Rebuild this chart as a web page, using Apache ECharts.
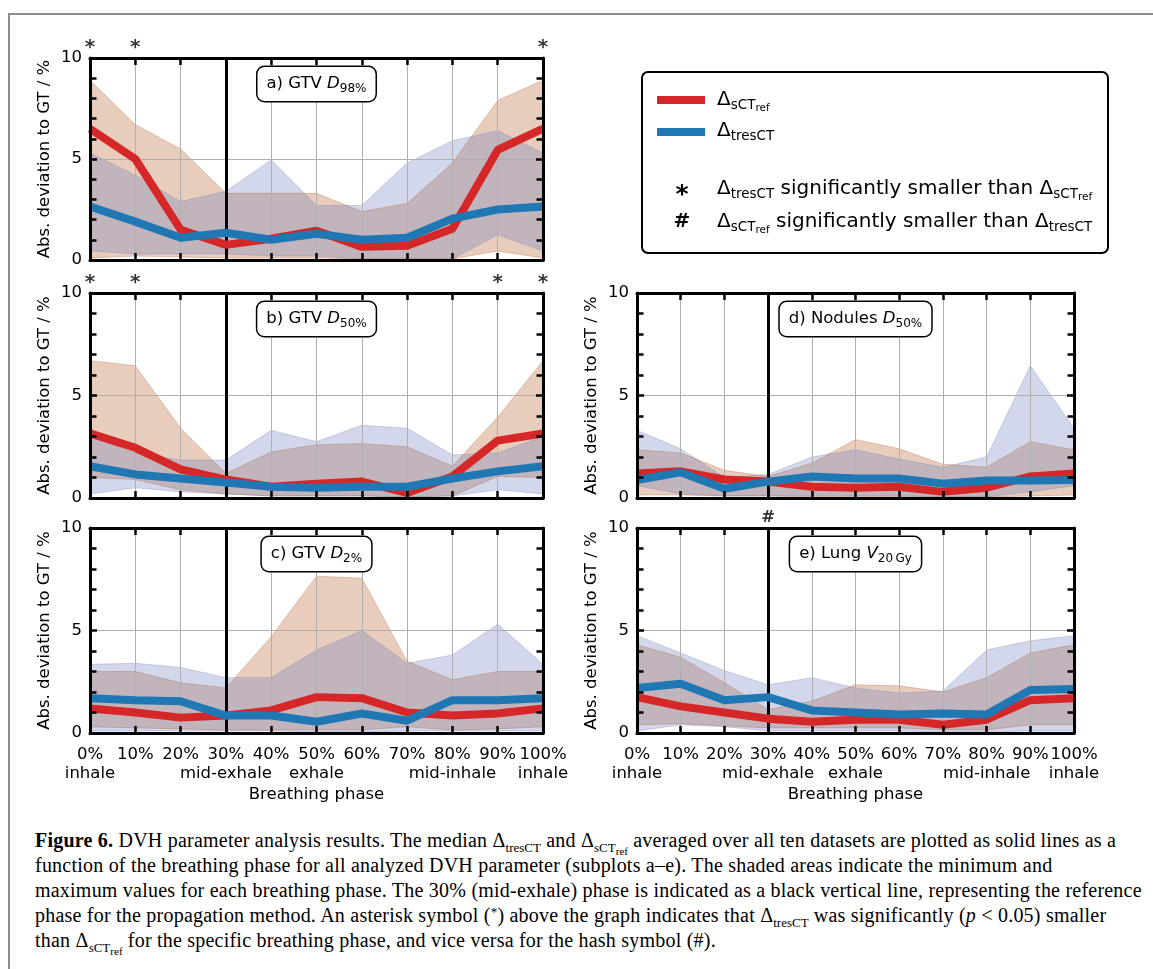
<!DOCTYPE html>
<html>
<head>
<meta charset="utf-8">
<script src="https://cdn.jsdelivr.net/npm/echarts/dist/echarts.min.js"></script>
<style>
  html, body { margin: 0; padding: 0; background: #fff; width: 1153px; height: 969px; overflow: hidden; }
  #frame { position: absolute; left: 8px; top: 13px; right: 0; bottom: 0; border-top: 2px solid #8c8c8c; border-left: 2px solid #8c8c8c; }
  #chart { position: absolute; left: 0; top: 0; width: 1153px; height: 820px; }
  #cap { position: absolute; left: 35px; top: 828px; font-family: 'Liberation Serif', serif; font-size: 20px; letter-spacing: 0.22px; line-height: 25px; white-space: nowrap; color: #000; }
  #cap sub { font-size: 0.65em; vertical-align: -0.35em; line-height: 0; letter-spacing: 0; }
  #cap sub sub { font-size: 0.85em; vertical-align: -0.3em; }
  #cap sup { font-size: 0.65em; vertical-align: 0.5em; line-height: 0; }
</style>
</head>
<body>
<div id="frame"></div>
<div id="chart"></div>
<div id="cap"><b>Figure 6.</b> DVH parameter analysis results. The median Δ<sub>tresCT</sub> and Δ<sub>sCT<sub>ref</sub></sub> averaged over all ten datasets are plotted as solid lines as a<br>function of the breathing phase for all analyzed DVH parameter (subplots a–e). The shaded areas indicate the minimum and<br>maximum values for each breathing phase. The 30% (mid-exhale) phase is indicated as a black vertical line, representing the reference<br>phase for the propagation method. An asterisk symbol (<sup>*</sup>) above the graph indicates that Δ<sub>tresCT</sub> was significantly (<i>p</i> &lt; 0.05) smaller<br>than Δ<sub>sCT<sub>ref</sub></sub> for the specific breathing phase, and vice versa for the hash symbol (#).</div>
<script>
// ---------------- data ----------------
const phases = ['0%', '10%', '20%', '30%', '40%', '50%', '60%', '70%', '80%', '90%', '100%'];
const phaseNames = ['inhale', '', '', 'mid-exhale', '', 'exhale', '', '', 'mid-inhale', '', 'inhale'];
const refPhase = '30%';
const yMin = 0, yMax = 10, yStep = 5;

// a) GTV D98%
const sctA     = [6.5, 5.0, 1.5, 0.75, 1.05, 1.45, 0.65, 0.7, 1.55, 5.45, 6.5];
const tresA    = [2.65, 1.9, 1.1, 1.35, 1.0, 1.3, 1.0, 1.1, 2.05, 2.5, 2.65];
const sctMinA  = [0.1, 0.2, 0.15, 0.1, 0.1, 0.1, 0.05, 0.05, 0.05, 0.45, 0.1];
const sctMaxA  = [8.9, 6.7, 5.5, 3.3, 3.3, 3.3, 2.4, 2.8, 4.8, 7.9, 8.9];
const tresMinA = [0.45, 0.3, 0.3, 0.3, 0.2, 0.2, 0.05, 0.05, 0.05, 1.25, 0.45];
const tresMaxA = [5.3, 4.2, 2.9, 3.4, 4.95, 2.7, 2.7, 4.8, 5.9, 6.4, 5.3];
const sigA = ['0%', '10%', '100%'];

// b) GTV D50%
const sctB     = [3.15, 2.45, 1.4, 0.9, 0.55, 0.7, 0.8, 0.25, 1.05, 2.8, 3.15];
const tresB    = [1.55, 1.15, 0.95, 0.75, 0.55, 0.5, 0.55, 0.55, 0.95, 1.3, 1.55];
const sctMinB  = [1.0, 0.9, 0.4, 0.2, 0.1, 0.1, 0.1, 0.05, 0.1, 1.05, 1.0];
const sctMaxB  = [6.7, 6.45, 3.4, 1.2, 2.25, 2.6, 2.65, 2.5, 1.55, 3.95, 6.7];
const tresMinB = [0.2, 0.5, 0.3, 0.2, 0.1, 0.1, 0.1, 0.05, 0.1, 0.4, 0.2];
const tresMaxB = [3.0, 2.2, 1.85, 1.85, 3.3, 2.75, 3.55, 3.4, 2.1, 2.2, 3.0];
const sigB = ['0%', '10%', '90%', '100%'];

// c) GTV D2%
const sctC     = [1.2, 1.0, 0.75, 0.85, 1.1, 1.75, 1.7, 1.0, 0.85, 0.95, 1.2];
const tresC    = [1.7, 1.6, 1.55, 0.85, 0.85, 0.55, 0.95, 0.6, 1.6, 1.6, 1.7];
const sctMinC  = [0.3, 0.25, 0.2, 0.15, 0.15, 0.15, 0.15, 0.3, 0.15, 0.2, 0.3];
const sctMaxC  = [3.0, 3.0, 2.45, 2.2, 4.7, 7.65, 7.55, 3.5, 2.6, 3.0, 3.0];
const tresMinC = [0.1, 0.1, 0.1, 0.1, 0.1, 0.05, 0.05, 0.1, 0.1, 0.1, 0.1];
const tresMaxC = [3.35, 3.4, 3.2, 2.7, 2.7, 4.05, 5.0, 3.4, 3.8, 5.3, 3.35];
const sigC = [];

// d) Nodules D50%
const sctD     = [1.2, 1.3, 0.9, 0.8, 0.55, 0.5, 0.55, 0.3, 0.5, 1.05, 1.2];
const tresD    = [0.88, 1.25, 0.45, 0.8, 1.05, 0.95, 0.95, 0.7, 0.85, 0.85, 0.88];
const sctMinD  = [0.15, 0.15, 0.1, 0.1, 0.05, 0.05, 0.05, 0.05, 0.05, 0.1, 0.15];
const sctMaxD  = [2.35, 2.2, 1.35, 1.05, 1.7, 2.85, 2.4, 1.65, 1.5, 2.75, 2.35];
const tresMinD = [0.6, 0.2, 0.1, 0.1, 0.1, 0.1, 0.1, 0.05, 0.05, 0.3, 0.6];
const tresMaxD = [3.3, 2.4, 1.0, 1.15, 2.0, 2.35, 1.9, 1.5, 2.0, 6.45, 3.4];
const sigD = [];

// e) Lung V20Gy
const sctE     = [1.75, 1.3, 1.0, 0.7, 0.55, 0.65, 0.65, 0.4, 0.65, 1.6, 1.7];
const tresE    = [2.2, 2.4, 1.6, 1.75, 1.1, 1.0, 0.9, 0.95, 0.9, 2.1, 2.15];
const sctMinE  = [0.4, 0.45, 0.35, 0.25, 0.25, 0.25, 0.25, 0.15, 0.15, 0.4, 0.4];
const sctMaxE  = [4.3, 3.7, 2.45, 1.15, 1.55, 2.35, 2.3, 2.0, 2.7, 3.9, 4.3];
const tresMinE = [0.1, 0.4, 0.3, 0.1, 0.1, 0.1, 0.1, 0.05, 0.05, 0.1, 0.1];
const tresMaxE = [4.75, 3.9, 3.05, 2.35, 2.7, 2.2, 1.95, 2.05, 4.05, 4.5, 4.75];
const hashE = ['30%'];

// ---------------- style ----------------
const FONT = 'DejaVu Sans';
const RED = '#d62728', BLUE = '#1f77b4';
const RED_FILL = 'rgba(178,88,32,0.3)', BLUE_FILL = 'rgba(105,122,188,0.3)';
const GRIDC = '#b0b0b0';
const FS = 16.5;

const layout = [
  { left: 90,  top: 58,  width: 453, height: 202 },
  { left: 90,  top: 293, width: 453, height: 205 },
  { left: 90,  top: 528, width: 453, height: 205 },
  { left: 637, top: 293, width: 437, height: 205 },
  { left: 637, top: 528, width: 437, height: 205 }
];

const panels = [
  { title: '{m|a) GTV }{i|D}{s|98%}', sct: sctA, tres: tresA, sMin: sctMinA, sMax: sctMaxA, tMin: tresMinA, tMax: tresMaxA, marks: sigA, ch: '*', xl: false },
  { title: '{m|b) GTV }{i|D}{s|50%}', sct: sctB, tres: tresB, sMin: sctMinB, sMax: sctMaxB, tMin: tresMinB, tMax: tresMaxB, marks: sigB, ch: '*', xl: false },
  { title: '{m|c) GTV }{i|D}{s|2%}',  sct: sctC, tres: tresC, sMin: sctMinC, sMax: sctMaxC, tMin: tresMinC, tMax: tresMaxC, marks: sigC, ch: '*', xl: true },
  { title: '{m|d) Nodules }{i|D}{s|50%}', sct: sctD, tres: tresD, sMin: sctMinD, sMax: sctMaxD, tMin: tresMinD, tMax: tresMaxD, marks: sigD, ch: '*', xl: false },
  { title: '{m|e) Lung }{i|V}{s|20\u2009Gy}', sct: sctE, tres: tresE, sMin: sctMinE, sMax: sctMaxE, tMin: tresMinE, tMax: tresMaxE, marks: hashE, ch: '#', xl: true }
];

const titleRich = {
  m: { fontFamily: FONT, fontSize: FS, lineHeight: 26, fill: '#000' },
  i: { fontFamily: FONT, fontSize: FS, fontStyle: 'italic', lineHeight: 26, fill: '#000' },
  s: { fontFamily: FONT, fontSize: 12, lineHeight: 12, padding: [10, 0, 0, 0], fill: '#000' }
};

const grid = [], xAxis = [], yAxis = [], series = [], graphic = [];
const spine = { show: true, onZero: false, lineStyle: { color: '#000', width: 3 } };
const tick = { show: true, inside: true, length: 7, interval: 0, lineStyle: { color: '#000', width: 2.5 } };
const minor = { show: true, splitNumber: 5, length: 6.5, lineStyle: { color: '#000', width: 2.5 } };
const nameStyle = { color: '#000', fontFamily: FONT, fontSize: FS };

panels.forEach((p, k) => {
  const L = layout[k];
  grid.push(Object.assign({ containLabel: false, outerBoundsMode: 'none' }, L));
  xAxis.push({
    gridIndex: k, type: 'category', data: phases, boundaryGap: false, position: 'bottom', z: 10,
    axisLine: spine, axisTick: tick,
    axisLabel: { show: p.xl, interval: 0, color: '#000', fontFamily: FONT, fontSize: FS, lineHeight: 19, margin: 12,
      formatter: (v, i) => phaseNames[i] ? v + '\n' + phaseNames[i] : v },
    splitLine: { show: false },
    name: p.xl ? 'Breathing phase' : '', nameLocation: 'middle', nameGap: 53, nameTextStyle: nameStyle
  });
  xAxis.push({
    gridIndex: k, type: 'category', data: phases, boundaryGap: false, position: 'top', z: 10,
    axisLine: spine, axisTick: tick, axisLabel: { show: false }, splitLine: { show: false }
  });
  xAxis.push({
    gridIndex: k, type: 'category', data: phases, boundaryGap: false, position: 'bottom', z: 1,
    axisLine: { show: false }, axisTick: { show: false }, axisLabel: { show: false },
    splitLine: { show: true, interval: 0, lineStyle: { color: GRIDC, width: 1 } }
  });
  const yb = { gridIndex: k, type: 'value', min: yMin, max: yMax, interval: yStep };
  yAxis.push(Object.assign({}, yb, {
    position: 'left', z: 10, axisLine: spine, axisTick: tick, minorTick: minor,
    axisLabel: { color: '#000', fontFamily: FONT, fontSize: FS, margin: 8 },
    splitLine: { show: false },
    name: 'Abs. deviation to GT / %', nameLocation: 'middle', nameGap: 37, nameTextStyle: nameStyle
  }));
  yAxis.push(Object.assign({}, yb, {
    position: 'right', z: 10, axisLine: spine, axisTick: tick, minorTick: minor,
    axisLabel: { show: false }, splitLine: { show: false }
  }));
  yAxis.push(Object.assign({}, yb, {
    position: 'left', z: 1, axisLine: { show: false }, axisTick: { show: false }, axisLabel: { show: false },
    splitLine: { show: true, lineStyle: { color: GRIDC, width: 1 } }
  }));

  const xi = 3 * k, yi = 3 * k;
  const band = (lo, hi, fill, stack) => [
    { type: 'line', xAxisIndex: xi, yAxisIndex: yi, stack: stack, data: lo, symbol: 'none', silent: true, z: 0,
      lineStyle: { width: 1, color: fill } },
    { type: 'line', xAxisIndex: xi, yAxisIndex: yi, stack: stack, data: hi.map((v, i) => v - lo[i]), symbol: 'none', silent: true, z: 0,
      lineStyle: { width: 1, color: fill }, areaStyle: { color: fill, opacity: 1 } }
  ];
  series.push(...band(p.sMin, p.sMax, RED_FILL, 'sct' + k));
  const tb = band(p.tMin, p.tMax, BLUE_FILL, 'tres' + k);
  tb[1].markLine = { silent: true, z: 5, symbol: ['none', 'none'], label: { show: false },
    lineStyle: { color: '#000', width: 3, type: 'solid' }, data: [{ xAxis: refPhase }] };
  series.push(...tb);
  series.push({ type: 'line', xAxisIndex: xi, yAxisIndex: yi, data: p.sct, symbol: 'none', z: 6, silent: true,
    lineStyle: { color: RED, width: 8, join: 'round', cap: 'butt' } });
  series.push({ type: 'line', xAxisIndex: xi, yAxisIndex: yi, data: p.tres, symbol: 'none', z: 7, silent: true,
    lineStyle: { color: BLUE, width: 8, join: 'round', cap: 'butt' } });

  if (p.marks.length) {
    const isHash = p.ch === '#';
    series.push({ type: 'scatter', xAxisIndex: xi, yAxisIndex: yi, data: p.marks.map(ph => [ph, yMax]),
      symbolSize: 1, itemStyle: { color: 'rgba(0,0,0,0)' }, clip: false, z: 8, silent: true,
      label: { show: true, position: 'top', distance: isHash ? 1 : 0, formatter: p.ch, color: '#000',
        fontFamily: FONT, fontSize: isHash ? FS : 20, fontWeight: 'bold' } });
  }
  graphic.push({
    type: 'text', z: 100, silent: true,
    style: { text: p.title, rich: titleRich, x: L.left + L.width / 2, y: L.top + 26, align: 'center', verticalAlign: 'middle',
      backgroundColor: '#fff', borderColor: '#000', borderWidth: 1.5, borderRadius: 7, padding: [4, 9, 4, 9], fill: '#000' }
  });
});

// legend box
const legRich = {
  d: { fontFamily: FONT, fontSize: 20, lineHeight: 28, fill: '#000' },
  s: { fontFamily: FONT, fontSize: 13.5, lineHeight: 14, padding: [10, 0, 0, 0], fill: '#000' },
  ss: { fontFamily: FONT, fontSize: 10.5, lineHeight: 10, padding: [16, 0, 0, 0], fill: '#000' }
};
graphic.push(
  { type: 'rect', z: 100, silent: true, shape: { x: 642, y: 72, width: 466, height: 181, r: 6 }, style: { fill: '#fff', stroke: '#000', lineWidth: 2 } },
  { type: 'line', z: 101, silent: true, shape: { x1: 657, y1: 100, x2: 705, y2: 100 }, style: { stroke: RED, lineWidth: 8 } },
  { type: 'line', z: 101, silent: true, shape: { x1: 657, y1: 132, x2: 705, y2: 132 }, style: { stroke: BLUE, lineWidth: 8 } },
  { type: 'text', z: 101, silent: true, style: { text: '{d|Δ}{s|sCT}{ss|ref}', rich: legRich, x: 717, y: 100, align: 'left', verticalAlign: 'middle' } },
  { type: 'text', z: 101, silent: true, style: { text: '{d|Δ}{s|tresCT}', rich: legRich, x: 717, y: 131, align: 'left', verticalAlign: 'middle' } },
  { type: 'text', z: 101, silent: true, style: { text: '*', x: 682, y: 195, align: 'center', verticalAlign: 'middle', fontFamily: FONT, fontSize: 25, fontWeight: 'bold', fill: '#000' } },
  { type: 'text', z: 101, silent: true, style: { text: '#', x: 682, y: 222, align: 'center', verticalAlign: 'middle', fontFamily: FONT, fontSize: 20, fontWeight: 'bold', fill: '#000' } },
  { type: 'text', z: 101, silent: true, style: { text: '{d|Δ}{s|tresCT}{d| significantly smaller than Δ}{s|sCT}{ss|ref}', rich: legRich, x: 717, y: 189, align: 'left', verticalAlign: 'middle' } },
  { type: 'text', z: 101, silent: true, style: { text: '{d|Δ}{s|sCT}{ss|ref}{d| significantly smaller than Δ}{s|tresCT}', rich: legRich, x: 717, y: 222, align: 'left', verticalAlign: 'middle' } }
);

const chart = echarts.init(document.getElementById('chart'), null, { renderer: 'canvas' });
chart.setOption({
  animation: false,
  backgroundColor: 'transparent',
  grid: grid, xAxis: xAxis, yAxis: yAxis, series: series, graphic: graphic
});
</script>
</body>
</html>
